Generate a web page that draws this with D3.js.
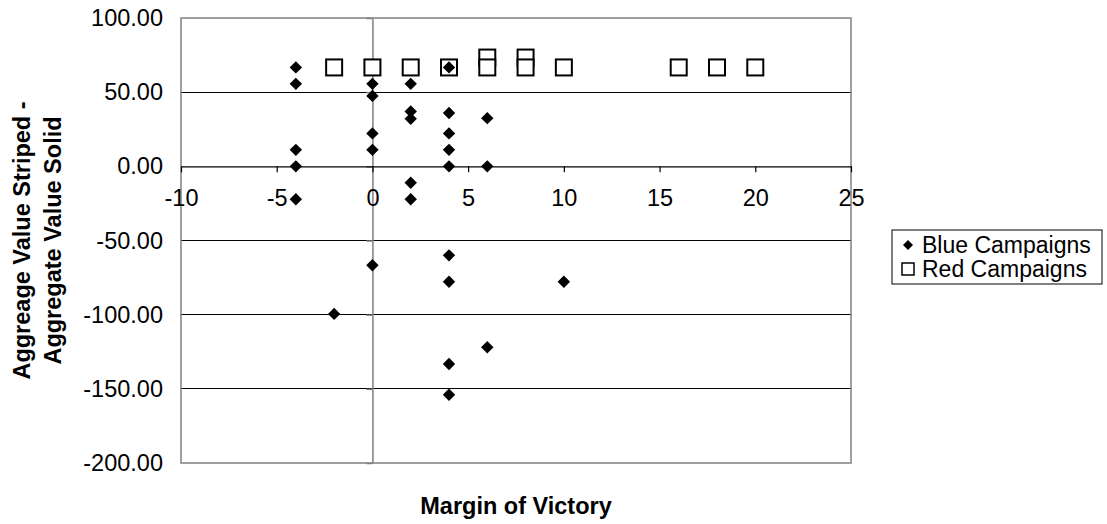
<!DOCTYPE html>
<html>
<head>
<meta charset="utf-8">
<script src="https://cdn.jsdelivr.net/npm/d3@7"></script>
<style>
  html, body { margin: 0; padding: 0; background: #ffffff; }
  svg { display: block; font-family: "Liberation Sans", Arial, sans-serif; }
</style>
</head>
<body>
<svg id="chart" width="1107" height="524"></svg>
<script>
// ---- data ----
const blueX = [-4, -4, -4, -4, -4,
               0, 0, 0, 0, 0,
               2, 2, 2, 2, 2,
               4, 4, 4, 4, 4, 4, 4, 4, 4,
               6, 6, 6,
               10,
               -2];
const blueY = [66.7, 55.6, 11.1, 0, -22.2,
               55.6, 47.5, 22.2, 11.1, -66.7,
               55.6, 37.0, 32.0, -11.1, -22.2,
               66.7, 36.0, 22.2, 11.1, 0, -60.0, -77.8, -133.3, -154.0,
               32.5, 0, -122.0,
               -77.8,
               -99.5];
const redX = [-2, 0, 2, 4, 6, 6, 8, 8, 10, 16, 18, 20];
const redY = [66.67, 66.67, 66.67, 66.67, 73.33, 66.67, 73.33, 66.67, 66.67, 66.67, 66.67, 66.67];

const xTicks = [-10, -5, 0, 5, 10, 15, 20, 25];
const yTicks = [100, 50, 0, -50, -100, -150, -200];
const seriesNames = ["Blue Campaigns", "Red Campaigns"];
const xTitle = "Margin of Victory";
const yTitleLines = ["Aggreage Value Striped -", "Aggregate Value Solid"];

// ---- layout ----
const plot = { left: 181, right: 851, top: 18, bottom: 463 };
const svg = d3.select("#chart");

const x = d3.scaleLinear().domain([-10, 25]).range([plot.left, plot.right]);
const y = d3.scaleLinear().domain([-200, 100]).range([plot.bottom, plot.top]);

const locale = d3.formatLocale({ decimal: ".", thousands: ",", grouping: [3], currency: ["", ""], minus: "-" });
const fmtY = locale.format(".2f");
const fmtX = locale.format("d");

// horizontal gridlines
svg.append("g")
  .selectAll("line")
  .data(yTicks.filter(v => v !== 0 && v !== 100 && v !== -200))
  .join("line")
  .attr("x1", plot.left).attr("x2", plot.right)
  .attr("y1", d => y(d)).attr("y2", d => y(d))
  .attr("stroke", "#000").attr("stroke-width", 1)
  .attr("shape-rendering", "crispEdges");

// plot border
svg.append("rect")
  .attr("x", plot.left).attr("y", plot.top)
  .attr("width", plot.right - plot.left).attr("height", plot.bottom - plot.top)
  .attr("fill", "none").attr("stroke", "#808080").attr("stroke-width", 1.5);

// y tick labels (left of plot)
const yLab = svg.append("g")
  .attr("transform", `translate(${plot.left},0)`)
  .call(d3.axisLeft(y).tickValues(yTicks).tickFormat(fmtY).tickSize(0).tickPadding(18));
yLab.select(".domain").remove();
yLab.selectAll("text").attr("font-size", 23.5).attr("fill", "#000")
  .attr("font-family", '"Liberation Sans", Arial, sans-serif');

// y axis line at x=0
const yAx = svg.append("g")
  .attr("transform", `translate(${x(0)},0)`)
  .call(d3.axisLeft(y).tickValues(yTicks).tickFormat("").tickSize(6).tickSizeOuter(0));
yAx.select(".domain").attr("stroke", "#808080").attr("stroke-width", 1.5);
yAx.selectAll(".tick line").attr("stroke", "#808080").attr("stroke-width", 1.5);

// x axis at y=0
const xAx = svg.append("g")
  .attr("transform", `translate(0,${y(0)})`)
  .call(d3.axisBottom(x).tickValues(xTicks).tickFormat(fmtX).tickSize(6).tickSizeOuter(0).tickPadding(17));
xAx.select(".domain").attr("stroke", "#000").attr("stroke-width", 1.2);
xAx.selectAll(".tick line").attr("stroke", "#000").attr("stroke-width", 1.2);
xAx.selectAll("text").attr("font-size", 23.5).attr("fill", "#000")
  .attr("font-family", '"Liberation Sans", Arial, sans-serif');

// red squares (white filled)
const sq = 16;
const redData = redX.map((v, i) => ({ x: v, y: redY[i] }));
svg.append("g").selectAll("rect")
  .data(redData).join("rect")
  .attr("x", d => x(d.x) - sq / 2).attr("y", d => y(d.y) - sq / 2)
  .attr("width", sq).attr("height", sq)
  .attr("fill", "#fff").attr("stroke", "#000").attr("stroke-width", 2);

// blue diamonds
const dm = 6.2;
const diamond = `M0,${-dm}L${dm},0L0,${dm}L${-dm},0Z`;
const blueData = blueX.map((v, i) => ({ x: v, y: blueY[i] }));
svg.append("g").selectAll("path")
  .data(blueData).join("path")
  .attr("transform", d => `translate(${x(d.x)},${y(d.y)})`)
  .attr("d", diamond).attr("fill", "#000");

// axis titles
svg.append("text")
  .attr("x", (plot.left + plot.right) / 2).attr("y", 514)
  .attr("text-anchor", "middle").attr("font-size", 23.5).attr("font-weight", "bold")
  .text(xTitle);

const yt = svg.append("text")
  .attr("transform", `translate(22,${(plot.top + plot.bottom) / 2}) rotate(-90)`)
  .attr("text-anchor", "middle").attr("font-size", 23.5).attr("font-weight", "bold");
yt.selectAll("tspan").data(yTitleLines).join("tspan")
  .attr("x", 0).attr("dy", (d, i) => i === 0 ? "0.35em" : "1.3em")
  .text(d => d);

// legend
const lg = svg.append("g");
lg.append("rect").attr("x", 892).attr("y", 230).attr("width", 210).attr("height", 54)
  .attr("fill", "#fff").attr("stroke", "#000").attr("stroke-width", 1);
const rows = [245, 269];
lg.append("path").attr("transform", `translate(908,${rows[0]})`)
  .attr("d", "M0,-5L5,0L0,5L-5,0Z").attr("fill", "#000");
lg.append("rect").attr("x", 902).attr("y", rows[1] - 6).attr("width", 12).attr("height", 12)
  .attr("fill", "#fff").attr("stroke", "#000").attr("stroke-width", 1.5);
lg.selectAll("text.lab").data(seriesNames).join("text")
  .attr("class", "lab")
  .attr("x", 922).attr("y", (d, i) => rows[i]).attr("dy", "0.35em")
  .attr("font-size", 23).text(d => d);
</script>
</body>
</html>
